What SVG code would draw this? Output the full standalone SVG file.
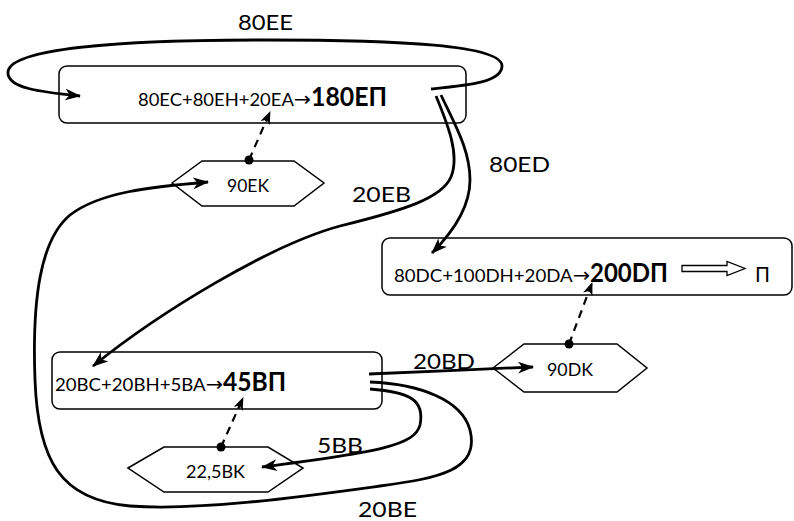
<svg xmlns="http://www.w3.org/2000/svg" width="794" height="521" viewBox="0 0 794 521">
  <style>
    .box { fill: #ffffff; stroke: #000000; stroke-width: 1.5; }
    .hex { fill: #ffffff; stroke: #000000; stroke-width: 1.5; }
    .flow { fill: none; stroke: #000000; stroke-width: 2.8; marker-end: url(#head); }
    .dash { fill: none; stroke: #000000; stroke-width: 2.2; stroke-dasharray: 8 6; marker-end: url(#headSmall); }
    .t { font-family: Lato, "Liberation Sans", Arial, sans-serif; fill: #000000; }
    .eq { font-size: 18px; }
    .arr { font-family: "DejaVu Sans", sans-serif; font-size: 20px; }
    .big { font-size: 26px; font-weight: bold; }
    .lbl { font-size: 21px; }
    .hx { font-size: 18px; }
  </style>
  <defs>
    <marker id="head" markerUnits="userSpaceOnUse" viewBox="0 0 16 12" markerWidth="16" markerHeight="12" refX="15" refY="6" orient="auto">
      <path d="M0,0 L16,6 L0,12 L4.5,6 Z" fill="#000000"/>
    </marker>
    <marker id="headSmall" markerUnits="userSpaceOnUse" viewBox="0 0 13 10" markerWidth="13" markerHeight="10" refX="12" refY="5" orient="auto">
      <path d="M0,0 L13,5 L0,10 L3.5,5 Z" fill="#000000"/>
    </marker>
  </defs>

  <!-- process E -->
  <g id="node-E">
    <rect class="box" x="59" y="66" width="407" height="57" rx="8"/>
    <text class="t eq" x="138" y="106" textLength="173" lengthAdjust="spacingAndGlyphs">80EC+80EH+20EA<tspan class="arr">→</tspan></text>
    <text class="t big" x="311" y="106" textLength="76" lengthAdjust="spacingAndGlyphs">180EП</text>
  </g>

  <!-- process D -->
  <g id="node-D">
    <rect class="box" x="382" y="238" width="410" height="57" rx="8"/>
    <text class="t eq" x="394" y="282" textLength="196" lengthAdjust="spacingAndGlyphs">80DC+100DH+20DA<tspan class="arr">→</tspan></text>
    <text class="t big" x="590" y="282" textLength="78" lengthAdjust="spacingAndGlyphs">200DП</text>
    <path d="M682,265.5 L727,265.5 L727,261.5 L745,268.5 L727,275.5 L727,271.5 L682,271.5 Z" fill="#ffffff" stroke="#000000" stroke-width="1.3"/>
    <text class="t lbl" x="755" y="282" textLength="15" lengthAdjust="spacingAndGlyphs">П</text>
  </g>

  <!-- process B -->
  <g id="node-B">
    <rect class="box" x="52" y="352" width="330" height="57" rx="8"/>
    <text class="t eq" x="55" y="391" textLength="168" lengthAdjust="spacingAndGlyphs">20BC+20BH+5BA<tspan class="arr">→</tspan></text>
    <text class="t big" x="223" y="391" textLength="63" lengthAdjust="spacingAndGlyphs">45BП</text>
  </g>

  <!-- stock nodes -->
  <g id="node-EK">
    <polygon class="hex" points="172,183 202,161 294,161 324,183 294,206 202,206"/>
    <text class="t hx" x="227" y="192" textLength="42" lengthAdjust="spacingAndGlyphs">90EK</text>
  </g>
  <g id="node-DK">
    <polygon class="hex" points="493,368 524,344 617,344 647,368 617,392 524,392"/>
    <text class="t hx" x="547" y="376" textLength="46" lengthAdjust="spacingAndGlyphs">90DK</text>
  </g>
  <g id="node-BK">
    <polygon class="hex" points="128,468 164,447 268,447 303,468 268,492 164,492"/>
    <text class="t hx" x="186" y="478" textLength="59" lengthAdjust="spacingAndGlyphs">22,5BK</text>
  </g>

  <!-- connectors -->
  <g id="connectors">
    <!-- 80EE loop back into E -->
    <path class="flow" d="M431,89 C 470,85 502,82 502,66 C 502,45 400,40 265,40 C 120,40 10,48 8,72 C 7,88 40,92 80,96"/>
    <!-- 80ED : E to D -->
    <path class="flow" d="M441,95 C 455,125 470,150 470,180 C 470,210 450,235 432,253"/>
    <!-- 20EB : E to B -->
    <path class="flow" d="M436,96 C 448,125 460,155 451,177 C 442,198 405,210 340,226 C 270,245 160,312 93,366"/>
    <!-- 20BD : B to 90DK -->
    <path class="flow" d="M369,374 C 420,372 480,369 533,367"/>
    <!-- 20BE : B around to 90EK -->
    <path class="flow" d="M370,382 C 420,384 462,400 470,430 C 480,470 440,478 380,486 C 300,497 200,511 130,506 C 60,500 38,460 35,380 C 32,300 40,240 70,215 C 100,192 150,187 208,182"/>
    <!-- 5BB : B to 22,5BK -->
    <path class="flow" d="M370,389 C 410,392 425,400 420,425 C 415,445 380,452 262,467"/>

    <!-- stock links -->
    <path class="dash" d="M249,160 L270,112"/>
    <circle cx="249" cy="160" r="4.5" fill="#000000"/>
    <path class="dash" d="M569,344 L592,283"/>
    <circle cx="569" cy="344" r="4.5" fill="#000000"/>
    <path class="dash" d="M221,447 L243,398"/>
    <circle cx="221" cy="447" r="4.5" fill="#000000"/>

    <!-- flow labels -->
    <text class="t lbl" x="238" y="30" textLength="55" lengthAdjust="spacingAndGlyphs">80EE</text>
    <text class="t lbl" x="489" y="172" textLength="61" lengthAdjust="spacingAndGlyphs">80ED</text>
    <text class="t lbl" x="352" y="202" textLength="59" lengthAdjust="spacingAndGlyphs">20EB</text>
    <text class="t lbl" x="413" y="369" textLength="62" lengthAdjust="spacingAndGlyphs">20BD</text>
    <text class="t lbl" x="317" y="453" textLength="46" lengthAdjust="spacingAndGlyphs">5BB</text>
    <text class="t lbl" x="358" y="517" textLength="59" lengthAdjust="spacingAndGlyphs">20BE</text>
  </g>
</svg>
